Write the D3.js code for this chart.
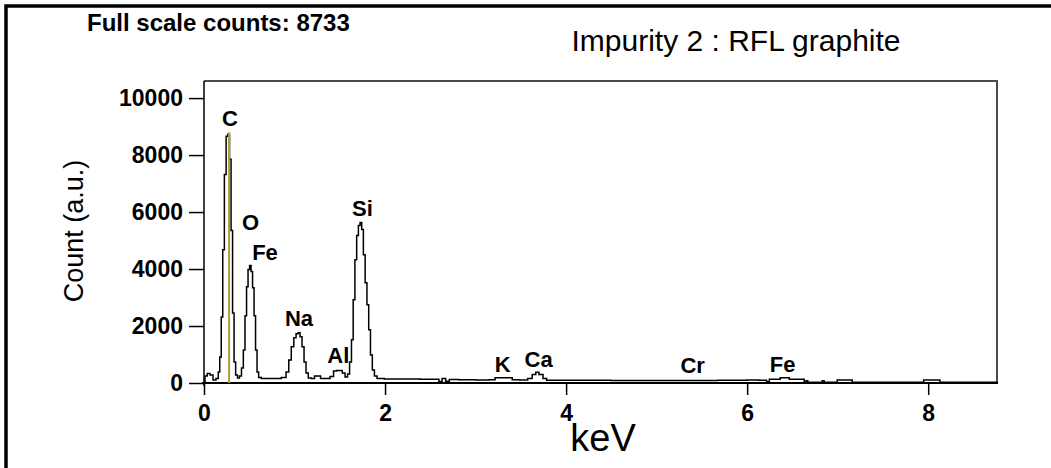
<!DOCTYPE html>
<html>
<head>
<meta charset="utf-8">
<script src="https://cdn.jsdelivr.net/npm/d3@7"></script>
<style>
  body { margin: 0; background: #fff; }
  svg { display: block; }
  text { font-family: Arial, "Liberation Sans", sans-serif; fill: #000; }
</style>
</head>
<body>
<svg id="chart" width="1051" height="468"></svg>
<script>
// EDS spectrum of impurity 2 in RFL graphite: energy (keV) vs counts
const energyKeV = [
  0.000, 0.022, 0.050, 0.083, 0.116, 0.149, 0.166, 0.182, 0.199, 0.215,
  0.235, 0.254, 0.273, 0.291, 0.307, 0.324, 0.340, 0.359, 0.381, 0.403,
  0.425, 0.444, 0.462, 0.478, 0.495, 0.512, 0.528, 0.545, 0.561, 0.578,
  0.594, 0.613, 0.652, 0.729, 0.818, 0.890, 0.923, 0.950, 0.978, 1.006,
  1.028, 1.050, 1.072, 1.094, 1.116, 1.138, 1.166, 1.204, 1.238, 1.271,
  1.304, 1.370, 1.414, 1.448, 1.481, 1.514, 1.541, 1.575, 1.597, 1.619,
  1.639, 1.657, 1.677, 1.696, 1.715, 1.733, 1.751, 1.770, 1.790, 1.810,
  1.829, 1.849, 1.870, 1.895, 1.928, 2.055, 2.276, 2.497, 2.580, 2.610,
  2.650, 2.690, 2.730, 2.900, 3.100, 3.200, 3.230, 3.390, 3.420, 3.550,
  3.600, 3.650, 3.680, 3.720, 3.770, 3.800, 4.200, 4.800, 5.400, 5.950,
  6.050, 6.200, 6.230, 6.260, 6.350, 6.380, 6.450, 6.480, 6.620, 6.640,
  6.660, 6.680, 6.820, 6.840, 6.860, 6.990, 7.000, 7.150, 7.170, 7.940,
  7.960, 8.120, 8.140, 8.760
];
const counts = [
    50,  250,  335,  280,  105,  160,  390,  915, 2320, 4680,
  7320, 8660, 8733, 7850, 5350, 2460,  740,  280,  175,  245,
   530, 1160, 2360, 3380, 3980, 4120, 3910, 3345, 2360, 1160,
   390,  195,  160,  160,  160,  195,  390,  810, 1270, 1585,
  1725, 1760, 1620, 1270,  740,  350,  175,  160,  245,  245,
   160,  160,  230,  420,  440,  440,  350,  210,  315,  740,
  1515, 2920, 4330, 5175, 5530, 5630, 5390, 4505, 3520, 2745,
  1865,  985,  460,  245,  160,  140,  140,  130,  130,   50,
   160,   60,  125,  110,  105,  110,  185,  185,  110,  105,
   160,  300,  375,  300,  160,  100,   95,   90,   90,   95,
   105,  100,   40,  130,  130,  185,  185,  130,  130,   30,
    80,   25,   25,   80,   25,   25,  105,  105,   25,   25,
   105,  105,   25,   25
];

const xTicks = [0, 2, 4, 6, 8];
const yTicks = [0, 2000, 4000, 6000, 8000, 10000];

// Element identifications and the count level each label sits at
const peakNames = ["C", "O", "Fe", "Na", "Al", "Si", "K", "Ca", "Cr", "Fe"];
const peakEnergies = [0.287, 0.514, 0.674, 1.050, 1.484, 1.751, 3.300, 3.696, 5.398, 6.392];
const peakLabelLevels = [9025, 5387, 4331, 2000, 710, 5856, 377, 574, 342, 377];

// Cursor marker on the carbon K line
const markerEnergy = 0.277;
const markerTop = 8800;

const fullScaleCounts = 8733;
const titleText = "Impurity 2 : RFL graphite";
const xLabel = "keV";
const yLabel = "Count (a.u.)";

const svg = d3.select("#chart");
const W = 1051, H = 468;
const plot = { left: 204, right: 997, top: 81, bottom: 383 };

const x = d3.scaleLinear().domain([0, 8.76]).range([plot.left, plot.right]);
const y = d3.scaleLinear().domain([0, 10600]).range([plot.bottom, plot.top]);

// outer frame (only left and top edges fall inside the canvas)
svg.append("rect")
  .attr("x", 6).attr("y", 6)
  .attr("width", W + 20).attr("height", H + 20)
  .attr("fill", "none").attr("stroke", "#000").attr("stroke-width", 3.5);

// header texts
svg.append("text")
  .attr("x", 87).attr("y", 31)
  .style("font-weight", "bold").style("font-size", "24px")
  .text("Full scale counts: " + fullScaleCounts);

svg.append("text")
  .attr("x", 736).attr("y", 51)
  .attr("text-anchor", "middle")
  .style("font-size", "30px")
  .text(titleText);

// plot box: top and right edges in dark grey
svg.append("path")
  .attr("d", `M${plot.left},${plot.top}H${plot.right}V${plot.bottom}`)
  .attr("fill", "none").attr("stroke", "#4a4a4a").attr("stroke-width", 2);

// y axis
const yAxis = svg.append("g")
  .attr("transform", `translate(${plot.left},0)`)
  .call(d3.axisLeft(y).tickValues(yTicks).tickSize(15).tickPadding(6).tickFormat(d3.format("d")));
yAxis.select(".domain").remove();
yAxis.selectAll(".tick line").attr("stroke", "#000").attr("stroke-width", 1.5);
yAxis.selectAll(".tick text")
  .style("font-family", "Arial, 'Liberation Sans', sans-serif")
  .style("font-weight", "bold").style("font-size", "23px").attr("fill", "#000");

// x axis
const xAxis = svg.append("g")
  .attr("transform", `translate(0,${plot.bottom})`)
  .call(d3.axisBottom(x).tickValues(xTicks).tickSize(12).tickPadding(10).tickFormat(d3.format("d")));
xAxis.select(".domain").remove();
xAxis.selectAll(".tick line").attr("stroke", "#000").attr("stroke-width", 1.5);
xAxis.selectAll(".tick text")
  .style("font-family", "Arial, 'Liberation Sans', sans-serif")
  .style("font-weight", "bold").style("font-size", "23px").attr("fill", "#000");

// axis lines
svg.append("line")
  .attr("x1", plot.left).attr("x2", plot.left)
  .attr("y1", plot.top).attr("y2", plot.bottom + 3)
  .attr("stroke", "#000").attr("stroke-width", 1.5);
svg.append("line")
  .attr("x1", plot.left - 2).attr("x2", plot.right + 1)
  .attr("y1", plot.bottom).attr("y2", plot.bottom)
  .attr("stroke", "#000").attr("stroke-width", 1.8);

// axis titles
svg.append("text")
  .attr("transform", `translate(82.5,231) rotate(-90)`)
  .attr("text-anchor", "middle")
  .style("font-size", "27px")
  .text(yLabel);

svg.append("text")
  .attr("x", 603).attr("y", 451)
  .attr("text-anchor", "middle")
  .style("font-size", "38px")
  .text(xLabel);

// spectrum trace
const spectrum = energyKeV.map((e, i) => ({ e, c: counts[i] }));
svg.append("path")
  .datum(spectrum)
  .attr("fill", "none")
  .attr("stroke", "#000")
  .attr("stroke-width", 1.5)
  .attr("d", d3.line().x(d => x(d.e)).y(d => y(d.c)).curve(d3.curveStep));

// carbon marker line
svg.append("line")
  .attr("x1", x(markerEnergy)).attr("x2", x(markerEnergy))
  .attr("y1", y(0)).attr("y2", y(markerTop))
  .attr("stroke", "#a8a030").attr("stroke-width", 2);

// element labels
svg.append("g").selectAll("text")
  .data(peakNames)
  .join("text")
  .attr("x", (d, i) => x(peakEnergies[i]))
  .attr("y", (d, i) => y(peakLabelLevels[i]))
  .attr("text-anchor", "middle")
  .style("font-weight", "bold").style("font-size", "22px")
  .text(d => d);
</script>
</body>
</html>
